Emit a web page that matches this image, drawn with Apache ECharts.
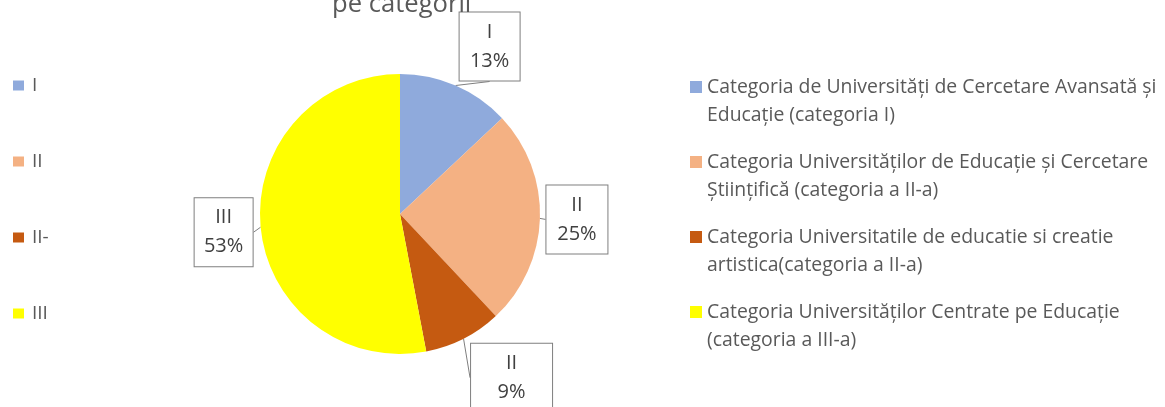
<!DOCTYPE html>
<html>
<head>
<meta charset="utf-8">
<title>pe categorii</title>
<script src="https://cdn.jsdelivr.net/npm/echarts@6/dist/echarts.min.js"></script>
<style>
  html, body { margin: 0; padding: 0; background: #fff; }
  #chart { width: 1165px; height: 407px; }
</style>
</head>
<body>
<div id="chart"></div>
<script>
// date
var categories = [
    'Categoria de Universități de Cercetare Avansată și\nEducație (categoria I)',
    'Categoria Universităților de Educație și Cercetare\nȘtiințifică (categoria a II-a)',
    'Categoria Universitatile de educatie si creatie\nartistica(categoria a II-a)',
    'Categoria Universităților Centrate pe Educație\n(categoria a III-a)'
];
var shortNames = ['I', 'II', 'II-', 'III'];
var labelNames = ['I', 'II', 'II', 'III'];
var values = [13, 25, 9, 53];
var colors = ['#8faadc', '#f4b183', '#c55a11', '#ffff00'];

// pozitia etichetelor fata de marginea feliei
var labelOffsets = [[34, -39], [37, 1], [48, 39], [-37, 5]];
var labelWidths = [40, 41, 61, 38];

var pieData = values.map(function (v, i) {
    return {
        name: categories[i],
        value: v,
        itemStyle: { color: colors[i] },
        label: { width: labelWidths[i] }
    };
});

var chart = echarts.init(document.getElementById('chart'));

var option = {
    animation: false,
    title: {
        text: 'pe categorii',
        left: 327,
        top: -13,
        textStyle: { fontFamily: 'Open Sans', fontSize: 25.6, fontWeight: 'normal', color: '#595959' }
    },
    legend: [{
        orient: 'vertical',
        left: 13,
        top: 76,
        padding: 0,
        itemWidth: 11,
        itemHeight: 10,
        itemGap: 57,
        icon: 'rect',
        data: categories,
        formatter: function (name) {
            return shortNames[categories.indexOf(name)];
        },
        textStyle: { fontFamily: 'Open Sans', fontSize: 19, lineHeight: 14, color: '#595959', padding: [0, 0, 0, 3] }
    }, {
        orient: 'vertical',
        left: 690,
        top: 45,
        padding: 0,
        itemWidth: 12,
        itemHeight: 12,
        itemGap: -9,
        icon: 'rect',
        data: categories,
        formatter: function (name) {
            return ' \n' + name;
        },
        textStyle: { fontFamily: 'Open Sans', fontSize: 19.4, lineHeight: 28, color: '#595959' }
    }],
    series: [{
        type: 'pie',
        center: [400, 214],
        radius: 140,
        startAngle: 90,
        clockwise: true,
        avoidLabelOverlap: false,
        data: pieData,
        label: {
            show: true,
            position: 'outside',
            formatter: function (p) {
                return labelNames[p.dataIndex] + '\n' + p.percent.toFixed(0) + '%';
            },
            fontFamily: 'Open Sans',
            fontSize: 20,
            lineHeight: 29,
            color: '#404040',
            align: 'center',
            overflow: 'none',
            backgroundColor: '#ffffff',
            borderColor: '#7f7f7f',
            borderWidth: 1,
            padding: [5, 10]
        },
        labelLine: {
            show: true,
            length: 5,
            length2: 0,
            lineStyle: { color: '#7f7f7f', width: 1 }
        },
        labelLayout: function (p) {
            var pt = p.labelLinePoints ? p.labelLinePoints[0] : [p.labelRect.x, p.labelRect.y];
            var off = labelOffsets[p.dataIndex];
            return {
                x: pt[0] + off[0],
                y: pt[1] + off[1],
                align: 'center',
                verticalAlign: 'middle'
            };
        },
        emphasis: { disabled: true }
    }]
};

chart.setOption(option);
</script>
</body>
</html>
